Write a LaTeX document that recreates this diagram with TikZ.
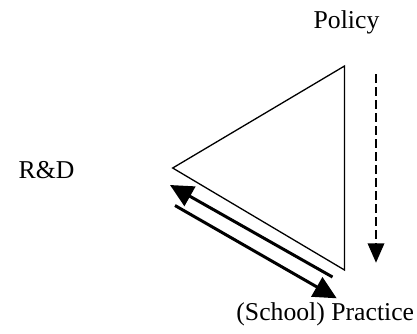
\documentclass[tikz,border=0pt]{standalone}
\usepackage{fontspec}
\setmainfont{Liberation Serif}
\usetikzlibrary{arrows.meta}
\begin{document}
\begin{tikzpicture}[x=0.5pt,y=-0.5pt,
  lbl/.style={inner sep=0pt,anchor=base west,font=\fontsize{12.85}{15}\selectfont},
  tri/.style={line width=0.65pt,line join=miter},
  bigarrow/.style={line width=1.5pt,-{Triangle[length=11.5pt,width=11pt]}},
  dasharrow/.style={line width=0.8pt,dash pattern=on 4.5pt off 2pt,-{Triangle[length=9.7pt,width=8.3pt]}}]
\useasboundingbox (0,0) rectangle (417,333);
\node[lbl] (policy) at (313.3,28.3) {Policy};
\node[lbl] (rd) at (18.3,178.3) {R\&D};
\node[lbl] (practice) at (236,320.5) {(School) Practice};
\coordinate (vl) at (172.7,168);
\coordinate (vt) at (344.5,66);
\coordinate (vb) at (344.5,270);
\draw[tri] (vl) -- (vt) -- (vb) -- cycle;
\coordinate (d1) at (376,74.3);
\coordinate (d2) at (376,262.7);
\draw[dasharrow] (d1) -- (d2);
\coordinate (a1s) at (332.5,277);
\coordinate (a1e) at (170,185);
\draw[bigarrow] (a1s) -- (a1e);
\coordinate (a2s) at (175,205.5);
\coordinate (a2e) at (336.7,298.3);
\draw[bigarrow] (a2s) -- (a2e);
\end{tikzpicture}
\end{document}
